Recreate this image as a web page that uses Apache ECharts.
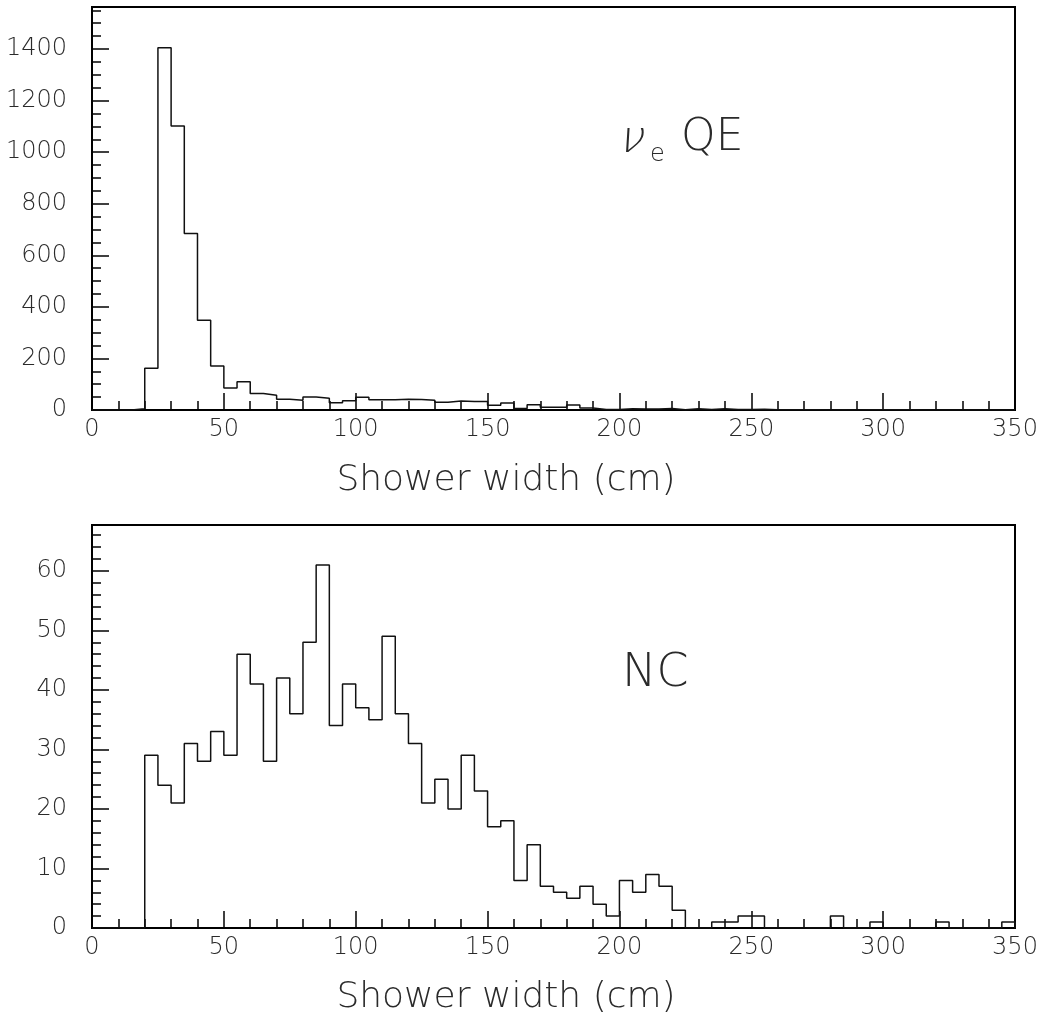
<!DOCTYPE html>
<html>
<head>
<meta charset="utf-8">
<title>Shower width</title>
<script src="https://cdn.jsdelivr.net/npm/echarts@6.0.0/dist/echarts.min.js"></script>
<style>
  html, body { margin: 0; padding: 0; background: #fff; }
  #chart { width: 1042px; height: 1030px; }
</style>
</head>
<body>
<div id="chart"></div>
<script>
// Shower width histograms, 5 cm bins from 0 to 350 cm
const BIN_WIDTH = 5;
const X_MIN = 0;
const X_MAX = 350;

// nu_e quasi-elastic events per bin
const nueQE = [
  0, 0, 0, 5, 162, 1405, 1101, 685, 348, 171,
  85, 110, 64, 57, 42, 38, 50, 46, 28, 36,
  49, 40, 40, 42, 41, 38, 30, 35, 33, 33,
  18, 27, 6, 20, 11, 11, 19, 8, 2, 2,
  5, 4, 4, 6, 1, 5, 2, 5, 2, 2,
  3, 1, 1, 1, 1, 0, 1, 0, 1, 1,
  1, 1, 0, 0, 0, 0, 0, 0, 0, 0
];

// neutral-current events per bin
const ncEvents = [
  0, 0, 0, 0, 29, 24, 21, 31, 28, 33,
  29, 46, 41, 28, 42, 36, 48, 61, 34, 41,
  37, 35, 49, 36, 31, 21, 25, 20, 29, 23,
  17, 18, 8, 14, 7, 6, 5, 7, 4, 2,
  8, 6, 9, 7, 3, 0, 0, 1, 1, 2,
  2, 0, 0, 0, 0, 0, 2, 0, 0, 1,
  0, 0, 0, 0, 1, 0, 0, 0, 0, 1
];

// y-axis ranges and tick values
const topYMax = 1563;
const topYLabels = [0, 200, 400, 600, 800, 1000, 1200, 1400];
const topYMinor = [];
for (let v = 0; v < topYMax; v += 50) topYMinor.push(v);

const botYMax = 67.7;
const botYLabels = [0, 10, 20, 30, 40, 50, 60];
const botYMinor = [];
for (let v = 0; v < botYMax; v += 2) botYMinor.push(v);

const xTitle = 'Shower width (cm)';

// Turn bin contents into outline points (left edge, content) for a stepped line
function outline(counts) {
  const pts = counts.map((c, i) => [X_MIN + i * BIN_WIDTH, c]);
  pts.push([X_MAX, counts[counts.length - 1]]);
  pts.push([X_MAX, 0]);
  return pts;
}

const FONT = 'DejaVu Sans';
const TXT = '#2a2a2a';
const plain = v => String(v);

function xAxisFor(gridIndex) {
  return {
    type: 'value', gridIndex, min: X_MIN, max: X_MAX, interval: 50,
    axisLine: { show: true, lineStyle: { color: '#000', width: 2 } },
    axisTick: { show: true, inside: true, length: 17, lineStyle: { color: '#000', width: 1.5 } },
    minorTick: { show: true, splitNumber: 5, length: 9, lineStyle: { color: '#000', width: 1.5 } },
    axisLabel: { fontSize: 24, fontWeight: 200, color: TXT, margin: 8, fontFamily: FONT, formatter: plain },
    splitLine: { show: false }, minorSplitLine: { show: false }
  };
}

function yAxisLabelled(gridIndex, max, labels) {
  return {
    type: 'value', gridIndex, min: 0, max, position: 'left',
    axisLine: { show: true, lineStyle: { color: '#000', width: 2 } },
    axisTick: { show: true, inside: true, length: 17, customValues: labels, lineStyle: { color: '#000', width: 1.5 } },
    axisLabel: { fontSize: 24, fontWeight: 200, color: TXT, margin: 25, fontFamily: FONT, customValues: labels, formatter: plain },
    splitLine: { show: false }
  };
}

function yAxisMinor(gridIndex, max, values) {
  return {
    type: 'value', gridIndex, min: 0, max, position: 'left',
    axisLine: { show: false },
    axisTick: { show: true, inside: true, length: 9, customValues: values, lineStyle: { color: '#000', width: 1.5 } },
    axisLabel: { show: false },
    splitLine: { show: false }
  };
}

const chart = echarts.init(document.getElementById('chart'), null, { renderer: 'canvas' });

chart.setOption({
  backgroundColor: '#fff',
  animation: false,
  grid: [
    { left: 92, right: 27, top: 7, height: 403, show: true, borderColor: '#000', borderWidth: 2, backgroundColor: 'transparent' },
    { left: 92, right: 27, top: 525, height: 403, show: true, borderColor: '#000', borderWidth: 2, backgroundColor: 'transparent' }
  ],
  xAxis: [xAxisFor(0), xAxisFor(1)],
  yAxis: [
    yAxisLabelled(0, topYMax, topYLabels),
    yAxisMinor(0, topYMax, topYMinor),
    yAxisLabelled(1, botYMax, botYLabels),
    yAxisMinor(1, botYMax, botYMinor)
  ],
  series: [
    {
      name: 'nu_e QE', type: 'line', step: 'end', xAxisIndex: 0, yAxisIndex: 0,
      data: outline(nueQE), showSymbol: false, symbol: 'none',
      lineStyle: { color: '#111', width: 1.5 }, z: 3
    },
    {
      name: 'NC', type: 'line', step: 'end', xAxisIndex: 1, yAxisIndex: 2,
      data: outline(ncEvents), showSymbol: false, symbol: 'none',
      lineStyle: { color: '#111', width: 1.5 }, z: 3
    }
  ],
  graphic: [
    { type: 'text', x: 506, y: 481, style: { text: xTitle, font: '200 36px "DejaVu Sans"', fill: TXT, align: 'center', verticalAlign: 'middle' } },
    { type: 'text', x: 506, y: 998, style: { text: xTitle, font: '200 36px "DejaVu Sans"', fill: TXT, align: 'center', verticalAlign: 'middle' } },
    { type: 'text', x: 620, y: 141, skewX: -0.35, style: { text: 'ν', font: '200 44px "DejaVu Sans"', fill: TXT, align: 'left', verticalAlign: 'middle' } },
    { type: 'text', x: 650, y: 155, style: { text: 'e', font: '200 24px "DejaVu Sans"', fill: TXT, align: 'left', verticalAlign: 'middle' } },
    { type: 'text', x: 681, y: 139, style: { text: 'QE', font: '200 44px "DejaVu Sans"', fill: TXT, align: 'left', verticalAlign: 'middle' } },
    { type: 'text', x: 622, y: 674, style: { text: 'NC', font: '200 46px "DejaVu Sans"', fill: TXT, align: 'left', verticalAlign: 'middle' } }
  ]
});
</script>
</body>
</html>
